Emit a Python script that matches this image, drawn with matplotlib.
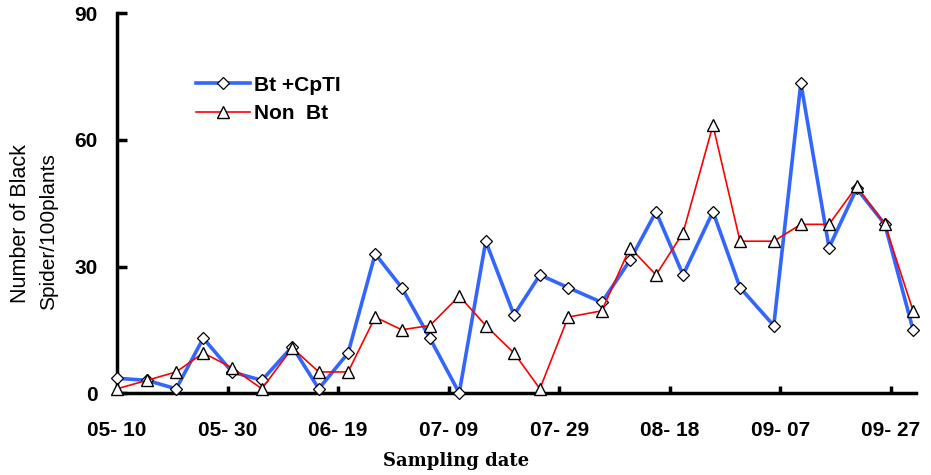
import matplotlib
matplotlib.use("Agg")
import matplotlib.pyplot as plt

# Jours depuis le 05-10 pour chaque prélèvement
jours = [0, 5.4, 10.7, 15.6, 20.8, 26.2, 31.7, 36.5, 41.8, 46.7, 51.5, 56.6, 61.9, 66.7,
         71.8, 76.5, 81.6, 87.7, 92.8, 97.5, 102.4, 107.8, 112.7, 118.8, 123.7, 128.8,
         133.8, 138.9, 144]

# Bt + CpTI
bt_cpti = [3.5, 3, 1, 13, 5, 3, 11, 1, 9.5, 33, 25, 13, 0, 36, 18.5, 28, 25, 21.5,
           31.5, 43, 28, 43, 25, 16, 73.5, 34.5, 48.5, 40, 15]

# Non Bt
non_bt = [1, 3, 5, 9.5, 6, 1, 10.7, 5, 5, 18, 15, 16, 23, 16, 9.5, 1, 18, 19.5,
          34.5, 28, 38, 63.5, 36, 36, 40, 40, 49, 40, 19.5]

tick_jours = [0, 20, 40, 60, 80, 100, 120, 140]
tick_labels = ['05- 10', '05- 30', '06- 19', '07- 09', '07- 29', '08- 18', '09- 07', '09- 27']
y_ticks = [0, 30, 60, 90]

plt.rcParams['font.family'] = ['Liberation Sans', 'DejaVu Sans']

fig = plt.figure(figsize=(9.31, 4.75), dpi=100)
ax = fig.add_axes([0.1257, 0.1726, 0.858, 0.799])

ax.plot(jours, bt_cpti, color='#3366ff', linewidth=2.6, marker='D', markersize=6.5,
        markerfacecolor='white', markeredgecolor='black', markeredgewidth=0.9,
        label='Bt +CpTI', clip_on=False, zorder=3)
ax.plot(jours, non_bt, color='red', linewidth=1.2, marker='^', markersize=8,
        markerfacecolor='white', markeredgecolor='black', markeredgewidth=1.0,
        label='Non  Bt', clip_on=False, zorder=4)

ax.set_xlim(0, 144.5)
ax.set_ylim(0, 90)
ax.set_xticks(tick_jours)
ax.set_xticklabels(tick_labels)
ax.set_yticks(y_ticks)

for s in ['top', 'right']:
    ax.spines[s].set_visible(False)
for s in ['left', 'bottom']:
    ax.spines[s].set_linewidth(2.5)

ax.tick_params(axis='x', direction='in', length=5, width=2.5, pad=20, labelsize=15)
ax.tick_params(axis='y', direction='in', length=7, width=2.5, pad=14, labelsize=15)
for lab in ax.get_xticklabels() + ax.get_yticklabels():
    lab.set_fontweight('bold')

ax.legend(loc='upper left', bbox_to_anchor=(0.075, 0.886), frameon=False,
          prop={'size': 15, 'weight': 'bold'}, handlelength=2.6, handletextpad=0.2,
          labelspacing=0.45)

ax.set_xlabel('Sampling date', fontsize=13, fontweight='bold', family='DejaVu Serif')
ax.xaxis.set_label_coords(0.425, -0.155)

# Étiquette de l'axe y sur deux lignes
fig.text(0.022, 0.53, 'Number of Black', rotation=90, fontsize=15.5, ha='center', va='center')
fig.text(0.052, 0.513, 'Spider/100plants', rotation=90, fontsize=15, ha='center', va='center')

fig.savefig('out.png', dpi=100)
